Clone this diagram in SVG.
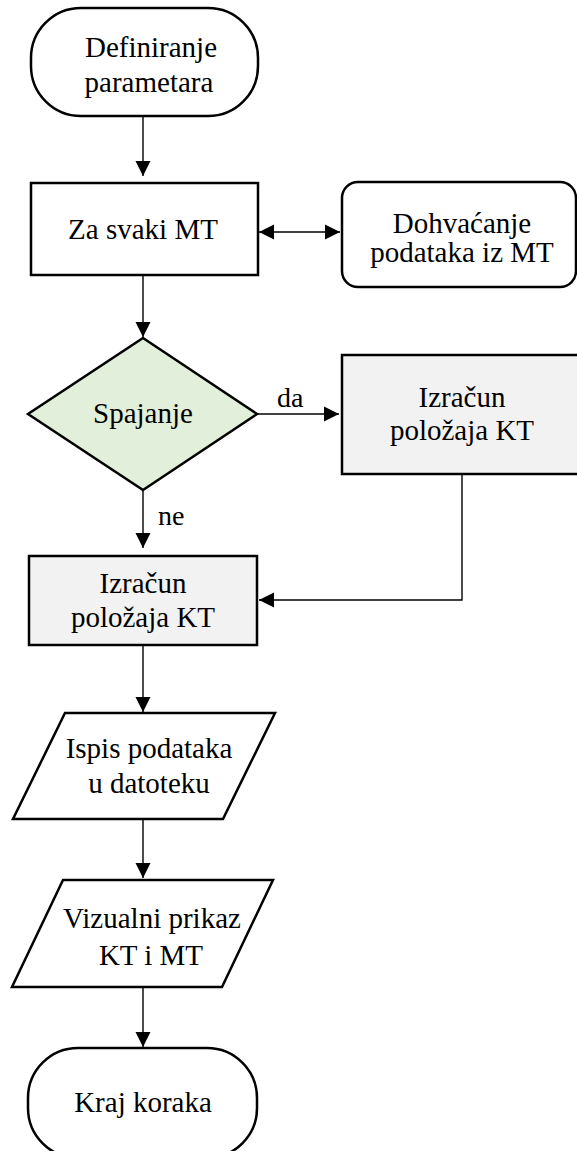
<svg xmlns="http://www.w3.org/2000/svg" width="577" height="1151" viewBox="0 0 577 1151">
<style>
.box{stroke:#000;stroke-width:2.5;fill:#fff}
.grey{fill:#f2f2f2}
.dia{fill:#e2efda}
.t{font-family:"Liberation Serif","Times New Roman",serif;font-size:29px;fill:#000;text-anchor:middle}
.lbl{font-family:"Liberation Serif","Times New Roman",serif;font-size:28px;fill:#000}
.c{stroke:#000;stroke-width:1.4;fill:none}
</style>
<defs>
<marker id="ah" markerUnits="userSpaceOnUse" markerWidth="16" markerHeight="16" viewBox="0 0 16 16" refX="15" refY="8" orient="auto-start-reverse">
<path d="M0,0.5 L15,8 L0,15.5 Z" fill="#000"/>
</marker>
</defs>
<g id="start">
<rect class="box" x="31" y="8" width="227" height="108" rx="50" ry="50"/>
<text class="t" x="151" y="57">Definiranje</text>
<text class="t" x="149" y="92">parametara</text>
</g>
<g id="za-svaki">
<rect class="box" x="31" y="183" width="227" height="92"/>
<text class="t" x="143" y="239">Za svaki MT</text>
</g>
<g id="dohvacanje">
<rect class="box" x="342" y="182" width="234" height="105" rx="16" ry="16"/>
<text class="t" x="462" y="233">Dohvaćanje</text>
<text class="t" x="462" y="262">podataka iz MT</text>
</g>
<g id="spajanje">
<polygon class="box dia" points="143,338 257,414 143,490 28,414"/>
<text class="t" x="143" y="423">Spajanje</text>
</g>
<g id="izracun-desno">
<rect class="box grey" x="342" y="355" width="240" height="119"/>
<text class="t" x="462" y="407">Izračun</text>
<text class="t" x="462" y="440">položaja KT</text>
</g>
<g id="izracun-lijevo">
<rect class="box grey" x="29" y="556" width="228" height="89"/>
<text class="t" x="143" y="593">Izračun</text>
<text class="t" x="143" y="627">položaja KT</text>
</g>
<g id="ispis">
<polygon class="box" points="65,713 275,713 223,819 13,819"/>
<text class="t" x="149" y="758">Ispis podataka</text>
<text class="t" x="149" y="793">u datoteku</text>
</g>
<g id="vizualni">
<polygon class="box" points="63,880 273,880 222,987 12,987"/>
<text class="t" x="152" y="928">Vizualni prikaz</text>
<text class="t" x="151" y="965">KT i MT</text>
</g>
<g id="kraj">
<rect class="box" x="28" y="1048" width="229" height="110" rx="50" ry="50"/>
<text class="t" x="143" y="1112">Kraj koraka</text>
</g>
<g id="connectors">
<line class="c" x1="143" y1="117" x2="143" y2="176" marker-end="url(#ah)"/>
<line class="c" x1="259" y1="232" x2="340" y2="232" marker-start="url(#ah)" marker-end="url(#ah)"/>
<line class="c" x1="143" y1="276" x2="143" y2="337" marker-end="url(#ah)"/>
<line class="c" x1="258" y1="414" x2="339" y2="414" marker-end="url(#ah)"/>
<text class="lbl" x="277" y="407">da</text>
<line class="c" x1="143" y1="491" x2="143" y2="548" marker-end="url(#ah)"/>
<text class="lbl" x="158" y="525">ne</text>
<polyline class="c" points="462,475 462,600 259,600" marker-end="url(#ah)"/>
<line class="c" x1="143" y1="646" x2="143" y2="712" marker-end="url(#ah)"/>
<line class="c" x1="143" y1="820" x2="143" y2="878" marker-end="url(#ah)"/>
<line class="c" x1="143" y1="988" x2="143" y2="1047" marker-end="url(#ah)"/>
</g>
</svg>
